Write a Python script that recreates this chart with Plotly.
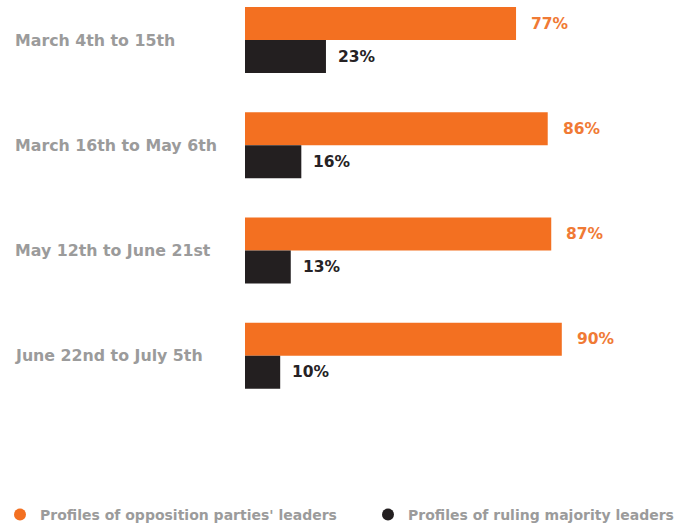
import plotly.graph_objects as go

periods = ["March 4th to 15th", "March 16th to May 6th",
           "May 12th to June 21st", "June 22nd to July 5th"]
opposition = [77, 86, 87, 90]
ruling = [23, 16, 13, 10]
series_names = ["Profiles of opposition parties' leaders",
                "Profiles of ruling majority leaders"]

ORANGE = "#F37021"
DARK = "#231F20"
GREY = "#9B9B9B"
FONT = "DejaVu Sans"

fig = go.Figure()
fig.add_trace(go.Bar(y=periods, x=opposition, orientation="h",
                     marker=dict(color=ORANGE, line_width=0),
                     showlegend=False, hoverinfo="skip"))
fig.add_trace(go.Bar(y=periods, x=ruling, orientation="h",
                     marker=dict(color=DARK, line_width=0),
                     showlegend=False, hoverinfo="skip"))

# legend entries drawn as round markers, one legend box each
for name, col, lg in zip(series_names, [ORANGE, DARK], ["legend", "legend2"]):
    fig.add_trace(go.Scatter(x=[None], y=[None], mode="markers", name=name,
                             legend=lg,
                             marker=dict(color=col, size=12, symbol="circle")))

PLOT_L, PLOT_R, PAGE_W, PAGE_H = 245, 89, 686, 530
BAR_HALF = 16.5
annotations = []
for p, o, r in zip(periods, opposition, ruling):
    annotations.append(dict(x=o, y=p, xref="x", yref="y", text=f"{o}%",
                            showarrow=False, xanchor="left", xshift=13,
                            yshift=BAR_HALF,
                            font=dict(family=FONT, size=15.5, color="#F07A35",
                                      weight="bold")))
    annotations.append(dict(x=r, y=p, xref="x", yref="y", text=f"{r}%",
                            showarrow=False, xanchor="left", xshift=10,
                            yshift=-BAR_HALF,
                            font=dict(family=FONT, size=15.5, color="#262224",
                                      weight="bold")))
    # left-aligned period labels near the page edge
    annotations.append(dict(x=(13 - PLOT_L) / (PAGE_W - PLOT_L - PLOT_R),
                            y=p, xref="paper", yref="y", text=p,
                            showarrow=False, xanchor="left",
                            font=dict(family=FONT, size=15.8, color=GREY,
                                      weight="bold")))

legend_font = dict(family=FONT, size=14, color=GREY, weight="bold")
legend_y = 1 - 515 / PAGE_H

fig.update_layout(
    width=PAGE_W, height=PAGE_H,
    margin=dict(l=PLOT_L, r=PLOT_R, t=0, b=90),
    paper_bgcolor="white", plot_bgcolor="white",
    barmode="group", bargap=0.373, bargroupgap=0,
    xaxis=dict(range=[0, 100], visible=False),
    yaxis=dict(range=[3.8, -0.38], visible=False,
               categoryorder="array", categoryarray=periods),
    annotations=annotations,
    legend=dict(orientation="h", xref="container", yref="container",
                x=-2 / PAGE_W, y=legend_y, xanchor="left", yanchor="middle",
                itemwidth=30, font=legend_font),
    legend2=dict(orientation="h", xref="container", yref="container",
                 x=368 / PAGE_W, y=legend_y, xanchor="left", yanchor="middle",
                 itemwidth=30, font=legend_font),
)

fig.write_html("out.html")
